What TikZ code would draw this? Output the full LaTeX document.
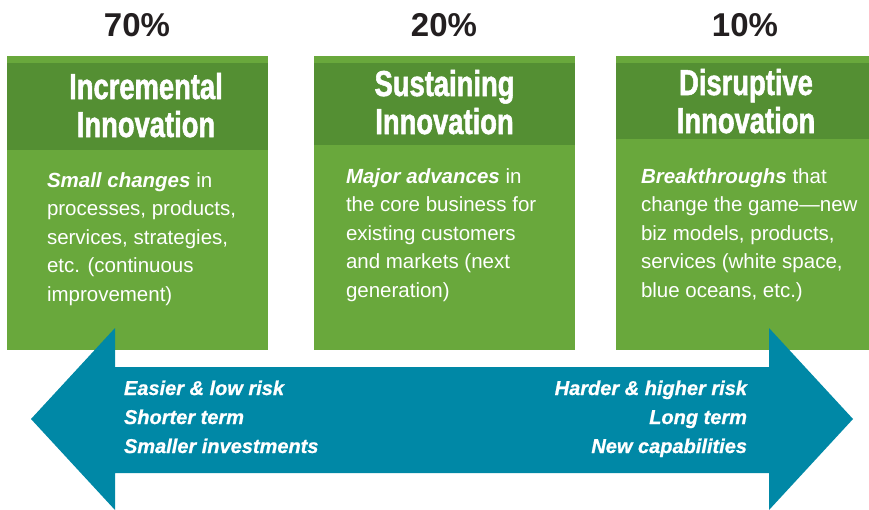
\documentclass[tikz,border=0pt]{standalone}
\usepackage{fontspec}
\setmainfont{Liberation Sans}
\newfontfamily\narrowfont{Liberation Sans Bold}[FakeStretch=0.76,FakeBold=1.5]
\newfontfamily\riskfont{Liberation Sans Bold Italic}[FakeBold=0.8]
\definecolor{leafgreen}{HTML}{69A83C}
\definecolor{darkleaf}{HTML}{548F33}
\definecolor{arrowteal}{HTML}{0088A6}
\definecolor{inkgray}{HTML}{231F20}

\begin{document}
\begin{tikzpicture}[x=1pt,y=-1pt,
  every node/.style={inner sep=0pt,outer sep=0pt},
  pct/.style={font=\fontsize{33}{33}\selectfont\bfseries,text=inkgray,anchor=base},
  head/.style={font=\narrowfont\fontsize{36}{38}\selectfont,text=white,align=center,anchor=base},
  body/.style={font=\fontsize{20.5}{28.5}\selectfont,text=white,align=left,anchor=base west},
  risk/.style={font=\riskfont\fontsize{20}{29}\selectfont,text=white,align=left,anchor=base west}]
\clip (0,0) rectangle (869,509);
\fill[white] (0,0) rectangle (869,509);
\fill[leafgreen] (7,56) rectangle (268,350);
\fill[darkleaf] (7,63) rectangle (268,150);
\fill[leafgreen] (314,56) rectangle (575,350);
\fill[darkleaf] (314,63) rectangle (575,145);
\fill[leafgreen] (616,56) rectangle (869,350);
\fill[darkleaf] (616,63) rectangle (869,139);
\node[pct] (p70) at (137,36) {70\%};
\node[pct] (p20) at (444,36) {20\%};
\node[pct] (p10) at (745,36) {10\%};
% base anchor sits on the last line
\node[head] (incr) at (146,137) {Incremental\\Innovation};
\node[head] (sust) at (444.5,134) {Sustaining\\Innovation};
\node[head] (disr) at (746,133) {Disruptive\\Innovation};
\node[body] (small) at (47,301) {\textbf{\textit{Small changes}} in\\processes, products,\\services, strategies,\\etc. (continuous\\improvement)};
\node[body] (major) at (346,297) {\textbf{\textit{Major advances}} in\\the core business for\\existing customers\\and markets (next\\generation)};
\node[body] (brk) at (641,297) {\textbf{\textit{Breakthroughs}} that\\change the game—new\\biz models, products,\\services (white space,\\blue oceans, etc.)};
\fill[arrowteal] (31,419) -- (115,328) -- (115,367) -- (769,367) -- (769,328)
  -- (853,419) -- (769,510) -- (769,473) -- (115,473) -- (115,510) -- cycle;
\node[risk] (easy) at (124,453) {Easier \& low risk\\Shorter term\\Smaller investments};
\node[risk,align=right,anchor=base east] (hard) at (747,453) {Harder \& higher risk\\Long term\\New capabilities};
\end{tikzpicture}
\end{document}
